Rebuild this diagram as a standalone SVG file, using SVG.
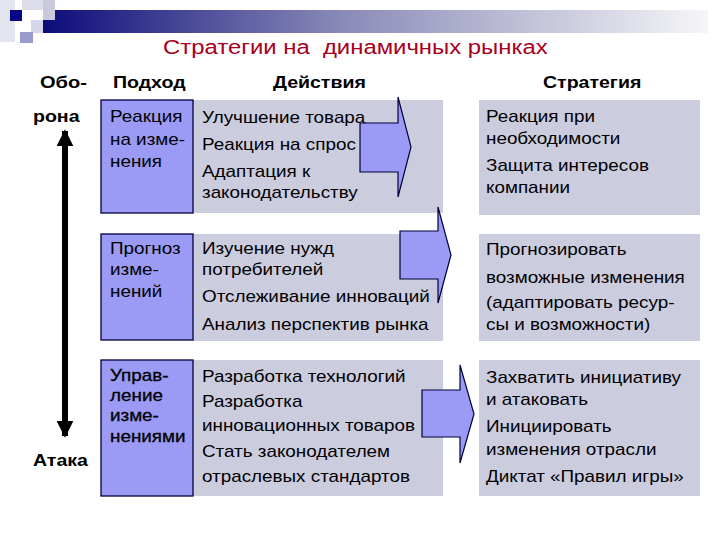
<svg xmlns="http://www.w3.org/2000/svg" width="720" height="540" viewBox="0 0 720 540">
<defs>
<linearGradient id="bar" x1="0" y1="0" x2="1" y2="0">
<stop offset="0" stop-color="#0c0c7a"/>
<stop offset="0.45" stop-color="#8a8ab8"/>
<stop offset="1" stop-color="#f6f6f8"/>
</linearGradient>
<marker id="ah" viewBox="0 0 10 10" refX="9" refY="5" markerWidth="2.8" markerHeight="3" orient="auto-start-reverse" markerUnits="strokeWidth">
<path d="M0,0 L10,5 L0,10 Z" fill="#000"/>
</marker>
<style>
.t{font-family:"Liberation Sans",Arial,sans-serif;font-size:16.4px;fill:#000}
.sb{stroke:#000;stroke-width:0.3}
.h{font-family:"Liberation Sans",Arial,sans-serif;font-size:17px;font-weight:bold;fill:#000}
.ttl{font-family:"Liberation Sans",Arial,sans-serif;font-size:19.5px;fill:#a8001c}
.ap{fill:#9b9bf5;stroke:#00003a;stroke-width:1.3}
.ac{fill:#ccccdf}
.ar{fill:#9b9bf5;stroke:#00003a;stroke-width:1.2;stroke-linejoin:miter}
</style>
</defs>
<rect width="720" height="540" fill="#fff"/>
<g id="decor">
<rect x="43" y="10" width="665" height="23" fill="url(#bar)"/>
<rect x="0" y="0" width="15" height="42" fill="#e4e4ef"/>
<rect x="22" y="0" width="21" height="10" fill="#dcdcea"/>
<rect x="43" y="0" width="12" height="20" fill="#c9c9de"/>
<rect x="31" y="20" width="12" height="13" fill="#d6d6e8"/>
<rect x="20" y="32" width="13" height="11" fill="#9a9acb"/>
<rect x="10" y="10" width="12" height="11" fill="#050585"/>
</g>
<g id="title">
<text class="ttl" xml:space="preserve" transform="translate(163,54) scale(1.225,1)">Стратегии на  динамичных рынках</text>
</g>
<g id="headers">
<text class="h" transform="translate(40,88) scale(1.18,1)">Обо-</text>
<text class="h" transform="translate(113,88) scale(1.15,1)">Подход</text>
<text class="h" transform="translate(273,88) scale(1.15,1)">Действия</text>
<text class="h" transform="translate(543,88) scale(1.15,1)">Стратегия</text>
<text class="h" transform="translate(33,122) scale(1.15,1)">рона</text>
<text class="h" transform="translate(33,466) scale(1.15,1)">Атака</text>
</g>
<g id="connectors">
<line x1="65" y1="131" x2="65" y2="436" stroke="#000" stroke-width="6" marker-start="url(#ah)" marker-end="url(#ah)"/>
</g>
<g id="row1">
<rect class="ac" x="193" y="100" width="250" height="113"/>
<rect class="ap" x="101" y="100" width="92" height="113"/>
<path class="ar" d="M360,123 H398 V97 L411,147 L398,197 V172 H360 Z"/>
<rect class="ac" x="479" y="100" width="221" height="115"/>
<text class="t" transform="translate(110,0) scale(1.15,1)"><tspan x="0" y="122">Реакция</tspan><tspan x="0" y="145">на изме-</tspan><tspan x="0" y="167">нения</tspan></text>
<text class="t" transform="translate(202,0) scale(1.15,1)"><tspan x="0" y="123">Улучшение товара</tspan><tspan x="0" y="150">Реакция на спрос</tspan><tspan x="0" y="177">Адаптация к</tspan><tspan x="0" y="198">законодательству</tspan></text>
<text class="t" transform="translate(486,0) scale(1.15,1)"><tspan x="0" y="122">Реакция при</tspan><tspan x="0" y="144">необходимости</tspan><tspan x="0" y="171">Защита интересов</tspan><tspan x="0" y="193">компании</tspan></text>
</g>
<g id="row2">
<rect class="ac" x="193" y="234" width="250" height="107"/>
<rect class="ap" x="101" y="234" width="92" height="106"/>
<path class="ar" d="M400,231 H438 V207 L451,255 L438,303 V279 H400 Z"/>
<rect class="ac" x="479" y="234" width="221" height="107"/>
<text class="t" transform="translate(110,0) scale(1.15,1)"><tspan x="0" y="254">Прогноз</tspan><tspan x="0" y="275">изме-</tspan><tspan x="0" y="297">нений</tspan></text>
<text class="t" transform="translate(202,0) scale(1.15,1)"><tspan x="0" y="254">Изучение нужд</tspan><tspan x="0" y="275">потребителей</tspan><tspan x="0" y="302">Отслеживание инноваций</tspan><tspan x="0" y="330">Анализ перспектив рынка</tspan></text>
<text class="t" transform="translate(486,0) scale(1.15,1)"><tspan x="0" y="255">Прогнозировать</tspan><tspan x="0" y="283">возможные изменения</tspan><tspan x="0" y="308">(адаптировать ресур-</tspan><tspan x="0" y="330">сы и возможности)</tspan></text>
</g>
<g id="row3">
<rect class="ac" x="193" y="360" width="250" height="136"/>
<rect class="ap" x="101" y="360" width="92" height="136"/>
<path class="ar" d="M422,390 H460 V365 L474,414 L460,463 V437 H422 Z"/>
<rect class="ac" x="479" y="360" width="221" height="136"/>
<text class="t sb" transform="translate(110,0) scale(1.15,1)"><tspan x="0" y="381">Управ-</tspan><tspan x="0" y="401">ление</tspan><tspan x="0" y="421">изме-</tspan><tspan x="0" y="442">нениями</tspan></text>
<text class="t" transform="translate(202,0) scale(1.15,1)"><tspan x="0" y="382">Разработка технологий</tspan><tspan x="0" y="407">Разработка</tspan><tspan x="0" y="431">инновационных товаров</tspan><tspan x="0" y="457">Стать законодателем</tspan><tspan x="0" y="482">отраслевых стандартов</tspan></text>
<text class="t" transform="translate(486,0) scale(1.15,1)"><tspan x="0" y="383">Захватить инициативу</tspan><tspan x="0" y="405">и атаковать</tspan><tspan x="0" y="432">Инициировать</tspan><tspan x="0" y="455">изменения отрасли</tspan><tspan x="0" y="482">Диктат «Правил игры»</tspan></text>
</g>
</svg>
